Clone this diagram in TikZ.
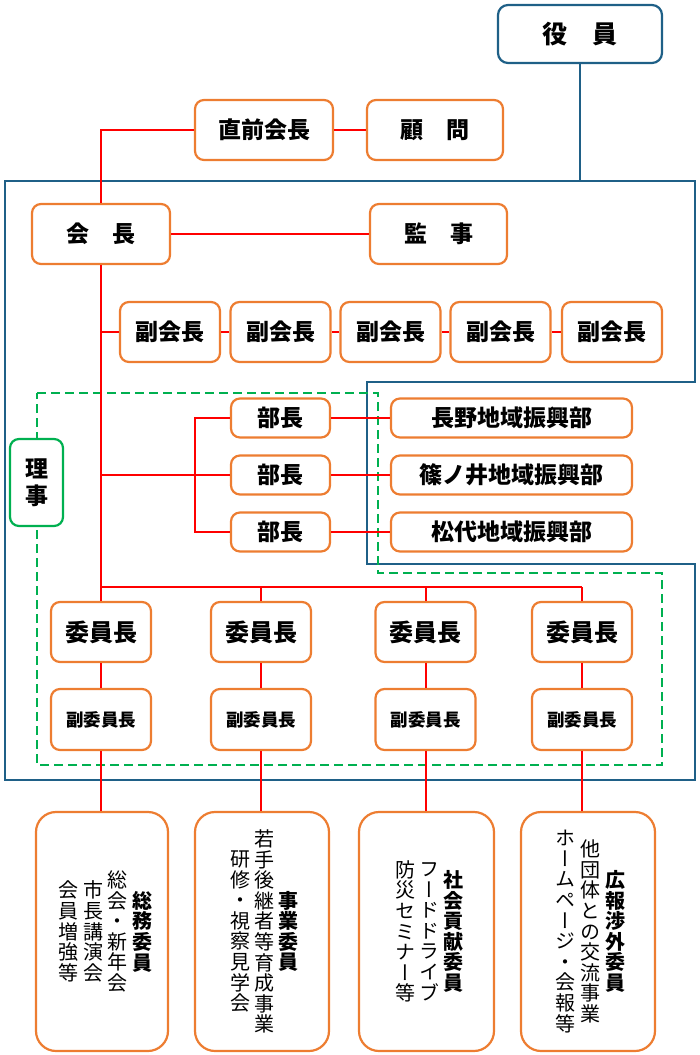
\documentclass[tikz,border=0pt]{standalone}
\usepackage{fontspec}
\setmainfont{Noto Sans CJK JP}
\newfontfamily\tatefont[RawFeature=+vert]{Noto Sans CJK JP}
\definecolor{obrd}{RGB}{237,125,49}
\definecolor{rline}{RGB}{255,0,0}
\definecolor{bline}{RGB}{31,96,135}
\definecolor{gline}{RGB}{0,176,80}
\tikzset{
  obox/.style={draw=obrd, line width=2.2pt, rounded corners=9pt, fill=white,
    inner sep=0pt, font=\fontsize{23}{26}\selectfont\bfseries},
  bbox/.style={draw=bline, line width=2.2pt, rounded corners=10pt, fill=white,
    inner sep=0pt, font=\fontsize{25}{28}\selectfont\bfseries},
  gbox/.style={draw=gline, line width=2.2pt, rounded corners=9pt, fill=white,
    inner sep=0pt, align=center, font=\fontsize{23}{27}\selectfont\bfseries},
  combox/.style={draw=obrd, line width=2.2pt, rounded corners=20pt, fill=white,
    inner sep=0pt, minimum height=239pt},
  tcol/.style={inner sep=0pt, align=center, font=\tatefont\fontsize{20}{20.6}\selectfont},
  tcolb/.style={inner sep=0pt, align=center, font=\tatefont\fontsize{20}{20.6}\selectfont\bfseries},
  rl/.style={draw=rline, line width=2pt},
  bl/.style={draw=bline, line width=2.2pt},
  gl/.style={draw=gline, line width=2.4pt, dash pattern=on 9pt off 5pt},
}
\begin{document}
\begin{tikzpicture}[x=1pt,y=-1pt]
\useasboundingbox (0,0) rectangle (700,1055);
% blue outline and green dashed region
\draw[bl] (5,181) -- (695,181) -- (695,382) -- (367,382) -- (367,564) -- (695,564) -- (695,780) -- (5,780) -- cycle;
\draw[gl] (37,393) -- (378,393) -- (378,573) -- (662,573) -- (662,765) -- (37,765) -- cycle;
% nodes
\node[bbox, minimum width=164pt, minimum height=58pt] (yakuin) at (580,34) {役　員};
\node[obox, minimum width=138pt, minimum height=60pt] (chokuzen) at (264,130) {直前会長};
\node[obox, minimum width=136pt, minimum height=60pt] (komon) at (435,130) {顧　問};
\node[obox, minimum width=138pt, minimum height=60pt] (kaicho) at (101,234) {会　長};
\node[obox, minimum width=137pt, minimum height=60pt] (kansa) at (438.5,234) {監　事};
\foreach \i/\x in {1/170,2/280.5,3/390.5,4/500.5,5/612}
  \node[obox, minimum width=100pt, minimum height=60pt] (fuku\i) at (\x,332) {副会長};
\foreach \i/\y/\t in {1/418/長野地域振興部,2/475/篠ノ井地域振興部,3/532/松代地域振興部}{
  \node[obox, minimum width=99pt, minimum height=39pt] (bucho\i) at (280.5,\y) {部長};
  \node[obox, minimum width=241pt, minimum height=39pt] (region\i) at (511.5,\y) {\t};
}
\node[gbox, minimum width=53pt, minimum height=87pt] (riji) at (36.5,482.5) {理\\事};
\foreach \i/\x in {1/101,2/261,3/425.5,4/582}{
  \node[obox, minimum width=100pt, minimum height=60pt, font=\fontsize{24}{26}\selectfont\bfseries] (iin\i) at (\x,632) {委員長};
  \node[obox, minimum width=100pt, minimum height=61pt, font=\fontsize{17.5}{20}\selectfont\bfseries] (fiin\i) at (\x,719.5) {副委員長};
}
\node[combox, minimum width=132pt] (com1) at (102,931.5) {};
\node[combox, minimum width=134pt] (com2) at (262,931.5) {};
\node[combox, minimum width=135pt] (com3) at (426.5,931.5) {};
\node[combox, minimum width=134pt] (com4) at (588,931.5) {};
% vertical texts
\node[tcolb] (c1a) at (142,931.5) {総\\務\\委\\員};
\node[tcol] (c1b) at (117,931.5) {総\\会\\・\\新\\年\\会};
\node[tcol] (c1c) at (93,931.5) {市\\長\\講\\演\\会};
\node[tcol] (c1d) at (68,931.5) {会\\員\\増\\強\\等};
\node[tcolb] (c2a) at (288,931.5) {事\\業\\委\\員};
\node[tcol] (c2b) at (264.5,931.5) {若\\手\\後\\継\\者\\等\\育\\成\\事\\業};
\node[tcol] (c2c) at (240,931.5) {研\\修\\・\\視\\察\\見\\学\\会};
\node[tcolb] (c3a) at (453,931.5) {社\\会\\貢\\献\\委\\員};
\node[tcol] (c3b) at (429.5,931.5) {フ\\ー\\ド\\ド\\ラ\\イ\\ブ};
\node[tcol] (c3c) at (405,931.5) {防\\災\\セ\\ミ\\ナ\\ー\\等};
\node[tcolb] (c4a) at (615,931.5) {広\\報\\渉\\外\\委\\員};
\node[tcol] (c4b) at (590,931.5) {他\\団\\体\\と\\の\\交\\流\\事\\業};
\node[tcol] (c4c) at (565,931.5) {ホ\\ー\\ム\\ペ\\ー\\ジ\\・\\会\\報\\等};
% coordinates
\coordinate (bus) at (0,587);
\coordinate (brk) at (195,0);
\coordinate (btop) at (0,181);
% blue connector
\draw[bl] (yakuin.south) -- (yakuin.south |- btop);
% red connectors
\draw[rl] (chokuzen.west) -| (kaicho.north);
\draw[rl] (chokuzen) -- (komon);
\draw[rl] (kaicho) -- (kansa);
\draw[rl] (kaicho.south) -- (iin1.north);
\draw[rl] (kaicho.south |- fuku1) -- (fuku1.west);
\draw[rl] (fuku1) -- (fuku2);
\draw[rl] (fuku2) -- (fuku3);
\draw[rl] (fuku3) -- (fuku4);
\draw[rl] (fuku4) -- (fuku5);
\draw[rl] (kaicho.south |- bucho2) -- (bucho2.west);
\draw[rl] (bucho1.west) -- (brk |- bucho1) -- (brk |- bucho3) -- (bucho3.west);
\foreach \i in {1,2,3} \draw[rl] (bucho\i) -- (region\i);
\draw[rl] (iin1.north |- bus) -- (iin4.north |- bus);
\foreach \i in {2,3,4} \draw[rl] (iin\i.north |- bus) -- (iin\i.north);
\foreach \i in {1,2,3,4}{
  \draw[rl] (iin\i) -- (fiin\i);
  \draw[rl] (fiin\i.south) -- (fiin\i.south |- com\i.north);
}
\end{tikzpicture}
\end{document}
